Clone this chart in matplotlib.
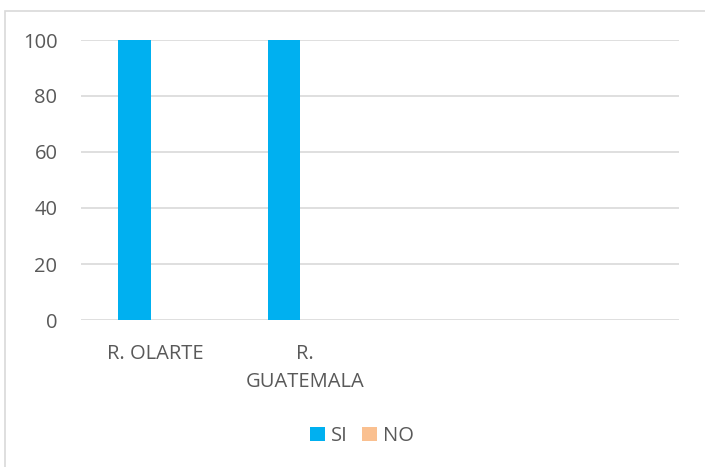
import matplotlib
matplotlib.use('Agg')
import matplotlib.pyplot as plt
import numpy as np
from matplotlib.patches import Rectangle

# datos del grafico
categorias = ['R. OLARTE', 'R.\nGUATEMALA', '', '']
si_vals = [100, 100, 0, 0]
no_vals = [0, 0, 0, 0]
yticks = [0, 20, 40, 60, 80, 100]

plt.rcParams['font.family'] = ['Open Sans', 'DejaVu Sans']
txt_color = '#595959'
fs = 14.5

fig = plt.figure(figsize=(7.05, 4.67), dpi=100)
W, H = 705, 467
ax = fig.add_axes([81 / W, 1 - 320 / H, (679 - 81) / W, (320 - 40) / H])

x = np.arange(len(categorias))
ancho = 0.22
ax.bar(x - 0.142, si_vals, ancho, color='#00B0F0', label='SI', zorder=3)
ax.bar(x + 0.08, no_vals, ancho, color='#FAC090', label='NO', zorder=3)

ax.set_xlim(-0.5, len(categorias) - 0.5)
ax.set_ylim(0, 100)
ax.set_yticks(yticks)
ax.set_yticklabels([str(v) for v in yticks])
ax.set_xticks(x)
ax.set_xticklabels(categorias, linespacing=1.58)
ax.tick_params(axis='both', length=0, labelsize=fs, colors=txt_color)
ax.tick_params(axis='y', pad=17)
ax.tick_params(axis='x', pad=17)

ax.grid(axis='y', color='#D9D9D9', linewidth=1.2, zorder=0)
for s in ax.spines.values():
    s.set_visible(False)

# borde del area del grafico
fig.patches.append(Rectangle((4.5 / W, -0.1), 1.2, 1 - 10.5 / H + 0.1,
                             transform=fig.transFigure, fill=False,
                             edgecolor='#D9D9D9', linewidth=1.2))

fig.legend(loc='center', bbox_to_anchor=(362 / W, 1 - 436 / H), ncol=2,
           frameon=False, fontsize=fs, handlelength=0.7, handleheight=0.7,
           handletextpad=0.3, columnspacing=0.75, labelcolor=txt_color)

fig.savefig('out.png', dpi=100)
